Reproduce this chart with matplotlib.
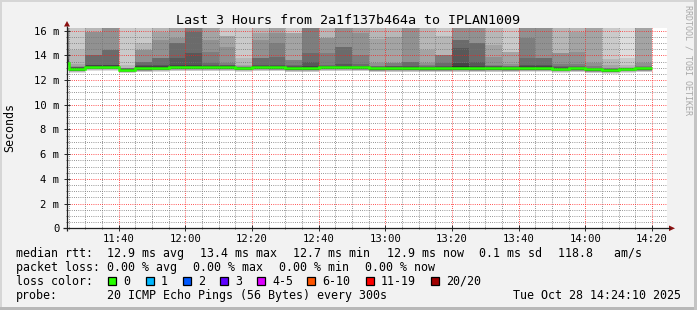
import matplotlib
matplotlib.use("Agg")
import matplotlib.pyplot as plt
from matplotlib.patches import Rectangle, Polygon
import numpy as np

# ---------------- data ----------------
title = "Last 3 Hours from 2a1f137b464a to IPLAN1009"
graph_start = "11:24:30"
graph_end = "14:24:30"
# end time of each 5-min step (first step is partial, starts at graph start)
bar_end = ["11:25", "11:30", "11:35", "11:40", "11:45", "11:50", "11:55", "12:00",
           "12:05", "12:10", "12:15", "12:20", "12:25", "12:30", "12:35", "12:40",
           "12:45", "12:50", "12:55", "13:00", "13:05", "13:10", "13:15", "13:20",
           "13:25", "13:30", "13:35", "13:40", "13:45", "13:50", "13:55", "14:00",
           "14:05", "14:10", "14:15", "14:20"]
# median rtt per step (ms)
medians = [13.4, 12.9, 13.08, 13.08, 12.85, 12.95, 13.0, 13.05, 13.05, 13.05, 13.05,
           13.0, 13.05, 13.03, 12.97, 12.97, 13.05, 13.05, 13.03, 12.95, 12.97, 12.97,
           12.95, 12.95, 12.97, 12.95, 12.97, 12.95, 12.98, 12.98, 12.92, 12.95, 12.87,
           12.82, 12.92, 12.95]
# upper ten pings per step, ping20 .. ping11 (ms)
upper_pings = [
    [17.0, 16.8, 16.6, 16.4, 16.3, 14.5, 13.9, 13.7, 13.6, 13.5],
    [17.0, 16.6, 14.4, 13.3, 13.12, 13.08, 13.05, 13.02, 12.98, 12.95],
    [17.0, 16.8, 16.5, 15.9, 15.9, 14.0, 14.0, 13.25, 13.2, 13.15],
    [17.0, 16.8, 16.6, 16.4, 16.3, 14.4, 14.4, 13.25, 13.2, 13.15],
    [17.0, 16.5, 13.2, 13.0, 12.98, 12.96, 12.94, 12.92, 12.9, 12.88],
    [17.0, 16.6, 14.97, 14.43, 14.43, 13.48, 13.48, 13.2, 13.1, 13.05],
    [17.0, 16.8, 16.5, 15.9, 15.24, 13.75, 13.75, 13.2, 13.12, 13.08],
    [17.0, 16.8, 16.6, 16.4, 15.37, 14.97, 14.97, 13.75, 13.2, 13.12],
    [17.2, 17.0, 16.8, 16.6, 16.5, 16.4, 15.9, 14.16, 13.25, 13.15],
    [17.0, 16.8, 16.6, 16.4, 15.24, 14.29, 13.35, 13.2, 13.15, 13.1],
    [17.0, 16.6, 15.56, 15.56, 14.7, 13.35, 13.25, 13.2, 13.15, 13.1],
    [17.0, 16.6, 13.75, 13.2, 13.1, 13.08, 13.06, 13.04, 13.02, 13.01],
    [17.0, 16.8, 16.5, 15.78, 15.24, 13.75, 13.75, 13.2, 13.15, 13.1],
    [17.0, 16.8, 16.6, 16.4, 15.78, 14.97, 13.89, 13.2, 13.15, 13.1],
    [17.0, 16.6, 15.78, 15.78, 13.62, 13.62, 13.2, 13.1, 13.05, 13.02],
    [17.2, 17.0, 16.8, 16.6, 16.4, 16.3, 14.16, 13.48, 13.1, 13.05],
    [17.0, 16.8, 16.5, 15.37, 15.37, 14.16, 13.2, 13.15, 13.1, 13.08],
    [17.0, 16.8, 16.6, 16.4, 16.3, 14.7, 14.7, 13.3, 13.15, 13.1],
    [17.0, 16.8, 16.6, 16.4, 15.78, 14.02, 13.3, 13.15, 13.1, 13.06],
    [17.0, 16.8, 16.5, 15.3, 13.35, 13.15, 13.1, 13.05, 13.0, 12.98],
    [17.0, 16.8, 16.5, 15.51, 13.35, 13.35, 13.15, 13.1, 13.05, 13.0],
    [17.0, 16.8, 16.6, 16.4, 16.3, 13.48, 13.48, 13.15, 13.08, 13.02],
    [17.0, 16.8, 16.5, 14.43, 13.35, 13.2, 13.12, 13.08, 13.03, 13.0],
    [17.0, 16.6, 15.56, 14.02, 14.02, 14.02, 13.35, 13.15, 13.05, 13.0],
    [17.0, 16.8, 16.6, 16.4, 16.3, 15.24, 15.24, 14.56, 13.35, 13.1],
    [17.0, 16.8, 16.6, 16.4, 16.3, 14.97, 14.97, 13.48, 13.15, 13.05],
    [17.0, 16.8, 16.5, 14.83, 13.89, 13.2, 13.15, 13.1, 13.05, 13.0],
    [17.0, 16.6, 14.29, 14.29, 13.3, 13.15, 13.1, 13.05, 13.0, 12.98],
    [17.0, 16.8, 16.6, 16.4, 16.3, 15.37, 13.75, 13.2, 13.1, 13.05],
    [17.0, 16.8, 16.6, 16.4, 16.3, 13.75, 13.75, 13.2, 13.1, 13.05],
    [17.0, 16.8, 16.5, 14.16, 14.16, 13.3, 13.1, 13.05, 13.0, 12.98],
    [17.0, 16.8, 16.5, 15.91, 14.3, 13.3, 13.1, 13.05, 13.0, 12.97],
    [17.0, 16.8, 16.6, 16.4, 13.35, 13.1, 13.0, 12.96, 12.93, 12.9],
    [17.0, 16.6, 13.72, 13.2, 13.0, 12.95, 12.92, 12.9, 12.88, 12.86],
    [17.0, 13.75, 13.2, 13.05, 13.0, 12.98, 12.97, 12.96, 12.95, 12.94],
    [17.0, 16.8, 16.6, 16.4, 13.35, 13.15, 13.05, 13.0, 12.98, 12.96],
]
# lower ten pings per step, ping1 .. ping10 (ms)
lower_pings = [
    [12.95, 13.05, 13.12, 13.18, 13.22, 13.25, 13.27, 13.29, 13.3, 13.32],
    [12.6, 12.64, 12.67, 12.7, 12.72, 12.74, 12.75, 12.76, 12.77, 12.78],
    [12.75, 12.8, 12.84, 12.87, 12.89, 12.91, 12.92, 12.93, 12.94, 12.95],
    [12.75, 12.8, 12.84, 12.87, 12.89, 12.91, 12.92, 12.93, 12.94, 12.95],
    [12.55, 12.58, 12.62, 12.65, 12.67, 12.69, 12.7, 12.71, 12.72, 12.73],
    [12.62, 12.67, 12.71, 12.74, 12.76, 12.78, 12.79, 12.8, 12.81, 12.82],
    [12.67, 12.72, 12.76, 12.79, 12.81, 12.83, 12.84, 12.85, 12.86, 12.87],
    [12.72, 12.77, 12.81, 12.84, 12.86, 12.88, 12.89, 12.9, 12.91, 12.92],
    [12.72, 12.77, 12.81, 12.84, 12.86, 12.88, 12.89, 12.9, 12.91, 12.92],
    [12.72, 12.77, 12.81, 12.84, 12.86, 12.88, 12.89, 12.9, 12.91, 12.92],
    [12.72, 12.77, 12.81, 12.84, 12.86, 12.88, 12.89, 12.9, 12.91, 12.92],
    [12.67, 12.72, 12.76, 12.79, 12.81, 12.83, 12.84, 12.85, 12.86, 12.87],
    [12.72, 12.77, 12.81, 12.84, 12.86, 12.88, 12.89, 12.9, 12.91, 12.92],
    [12.7, 12.75, 12.79, 12.82, 12.84, 12.86, 12.87, 12.88, 12.89, 12.9],
    [12.64, 12.69, 12.73, 12.76, 12.78, 12.8, 12.81, 12.82, 12.83, 12.84],
    [12.64, 12.69, 12.73, 12.76, 12.78, 12.8, 12.81, 12.82, 12.83, 12.84],
    [12.72, 12.77, 12.81, 12.84, 12.86, 12.88, 12.89, 12.9, 12.91, 12.92],
    [12.72, 12.77, 12.81, 12.84, 12.86, 12.88, 12.89, 12.9, 12.91, 12.92],
    [12.7, 12.75, 12.79, 12.82, 12.84, 12.86, 12.87, 12.88, 12.89, 12.9],
    [12.62, 12.67, 12.71, 12.74, 12.76, 12.78, 12.79, 12.8, 12.81, 12.82],
    [12.64, 12.69, 12.73, 12.76, 12.78, 12.8, 12.81, 12.82, 12.83, 12.84],
    [12.64, 12.69, 12.73, 12.76, 12.78, 12.8, 12.81, 12.82, 12.83, 12.84],
    [12.62, 12.67, 12.71, 12.74, 12.76, 12.78, 12.79, 12.8, 12.81, 12.82],
    [12.62, 12.67, 12.71, 12.74, 12.76, 12.78, 12.79, 12.8, 12.81, 12.82],
    [12.64, 12.69, 12.73, 12.76, 12.78, 12.8, 12.81, 12.82, 12.83, 12.84],
    [12.62, 12.67, 12.71, 12.74, 12.76, 12.78, 12.79, 12.8, 12.81, 12.82],
    [12.64, 12.69, 12.73, 12.76, 12.78, 12.8, 12.81, 12.82, 12.83, 12.84],
    [12.62, 12.67, 12.71, 12.74, 12.76, 12.78, 12.79, 12.8, 12.81, 12.82],
    [12.65, 12.7, 12.74, 12.77, 12.79, 12.81, 12.82, 12.83, 12.84, 12.85],
    [12.65, 12.7, 12.74, 12.77, 12.79, 12.81, 12.82, 12.83, 12.84, 12.85],
    [12.6, 12.65, 12.69, 12.72, 12.74, 12.76, 12.77, 12.78, 12.79, 12.8],
    [12.62, 12.67, 12.71, 12.74, 12.76, 12.78, 12.79, 12.8, 12.81, 12.82],
    [12.55, 12.6, 12.64, 12.67, 12.69, 12.71, 12.72, 12.73, 12.74, 12.75],
    [12.5, 12.55, 12.59, 12.62, 12.64, 12.66, 12.67, 12.68, 12.69, 12.7],
    [12.6, 12.65, 12.69, 12.72, 12.74, 12.76, 12.77, 12.78, 12.79, 12.8],
    [12.62, 12.67, 12.71, 12.74, 12.76, 12.78, 12.79, 12.8, 12.81, 12.82],
]
y_top = 16.19
y_ticks = [0, 2, 4, 6, 8, 10, 12, 14, 16]
y_tick_labels = ["0", "2 m", "4 m", "6 m", "8 m", "10 m", "12 m", "14 m", "16 m"]
x_tick_times = ["11:40", "12:00", "12:20", "12:40", "13:00", "13:20", "13:40", "14:00", "14:20"]
y_label = "Seconds"
side_text = "RRDTOOL / TOBI OETIKER"

rtt_label = "median rtt:"
rtt_items = ["12.9 ms avg", "13.4 ms max", "12.7 ms min", "12.9 ms now", "0.1 ms sd", "118.8   am/s"]
loss_label = "packet loss:"
loss_items = ["0.00 % avg", "0.00 % max", "0.00 % min", "0.00 % now"]
color_label = "loss color:"
loss_names = ["0", "1", "2", "3", "4-5", "6-10", "11-19", "20/20"]
loss_colors = ["#26ff00", "#00b8ff", "#0059ff", "#5e00ff", "#dd00ff", "#ff5500", "#ff0000", "#a00000"]
probe_label = "probe:"
probe_text = "20 ICMP Echo Pings (56 Bytes) every 300s"
stamp_text = "Tue Oct 28 14:24:10 2025"

# ---------------- layout / style ----------------
W, H = 697, 310
BACK = "#f2f2f2"
MONO = "DejaVu Sans Mono"
plt.rcParams["font.family"] = [MONO]


def tmin(s):
    parts = [int(p) for p in s.split(":")]
    sec = parts[2] if len(parts) > 2 else 0
    return (parts[0] - 11) * 60 + parts[1] + sec / 60.0


fig = plt.figure(figsize=(W / 100, H / 100), dpi=100, facecolor=BACK)
L, R, T, B = 67, 667, 28.3, 228.3
ax = fig.add_axes([L / W, 1 - B / H, (R - L) / W, (B - T) / H])
ax.set_facecolor("white")
x0, x1 = tmin(graph_start), tmin(graph_end)
ax.set_xlim(x0, x1)
ax.set_ylim(0, y_top)

ends = [tmin(t) for t in bar_end]
starts = [x0] + ends[:-1]

for k in range(len(ends)):
    p = list(lower_pings[k]) + list(upper_pings[k])[::-1]
    for i in range(1, 11):
        lo, hi = p[i - 1], p[20 - i]
        g = int(190 / 10 * (10 - i)) + 50
        col = "#%02x%02x%02x" % (g, g, g)
        ax.bar(starts[k], hi - lo, bottom=lo, width=ends[k] - starts[k], align="edge",
               color=col, linewidth=0, antialiased=False, zorder=1)

ax.stairs(medians, starts + [ends[-1]], baseline=None, color=loss_colors[0],
          linewidth=1.8, zorder=3)

ax.set_yticks(y_ticks)
ax.set_yticklabels(y_tick_labels)
ax.set_yticks(np.arange(0.5, 16.1, 0.5), minor=True)
ax.set_xticks([tmin(t) for t in x_tick_times])
ax.set_xticklabels(x_tick_times)
ax.set_xticks(np.arange(25, 205, 5), minor=True)

ax.set_axisbelow(False)
ax.grid(which="major", color=(1, 0.1, 0.1, 0.28), linestyle=(0, (1, 1.6)), linewidth=0.6)
ax.grid(which="minor", color=(0.45, 0.45, 0.45, 0.22), linestyle=(0, (1, 1.6)), linewidth=0.6)
for s in ax.spines.values():
    s.set_visible(False)
ax.tick_params(which="major", direction="inout", length=4, width=0.72, color="#303030",
               labelsize=7.6, labelcolor="black")
ax.tick_params(which="minor", direction="inout", length=2, width=0.6, color="#505050")
ax.tick_params(axis="y", which="major", pad=3.5)
ax.tick_params(axis="x", which="major", pad=1.8)

# overlay in pixel coordinates
ov = fig.add_axes([0, 0, 1, 1], zorder=10)
ov.set_xlim(0, W)
ov.set_ylim(H, 0)
ov.axis("off")
ov.patch.set_alpha(0)

# frame shading
ov.add_patch(Rectangle((0, 0), W, 2, color="#d6d6d6", lw=0))
ov.add_patch(Rectangle((0, 0), 2, H, color="#d6d6d6", lw=0))
ov.add_patch(Rectangle((0, H - 3), W, 3, color="#b8b8b8", lw=0))
ov.add_patch(Rectangle((W - 3, 0), 3, H, color="#c4c4c4", lw=0))

# axes lines + arrows
ov.plot([63, 670], [B, B], color="#202020", lw=0.9, solid_capstyle="butt")
ov.plot([L, L], [231, 26], color="#202020", lw=0.9, solid_capstyle="butt")
ov.add_patch(Polygon([[669, B - 2.8], [675, B], [669, B + 2.8]], closed=True, color="#8b1010", lw=0))
ov.add_patch(Polygon([[L - 3, 26.5], [L, 21], [L + 3, 26.5]], closed=True, color="#8b1010", lw=0))

# texts
ov.text(348.5, 23.5, title, fontsize=9.6, ha="center", va="baseline", color="black")
ov.text(10, 128, y_label, fontsize=8.4, rotation=90, ha="center", va="center")
ov.text(688, 5, side_text, fontsize=6.0, rotation=270, ha="center", va="top", color="#a8a8a8")

FS = 8.4
rows_y = [256.7, 270.7, 284.7, 298.7]
ov.text(16, rows_y[0], rtt_label, fontsize=FS, va="baseline")
for xx, s in zip([107, 200, 293, 386.7, 479, 558], rtt_items):
    ov.text(xx, rows_y[0], s, fontsize=FS, va="baseline")
ov.text(16, rows_y[1], loss_label, fontsize=FS, va="baseline")
for xx, s in zip([107, 193, 279, 365], loss_items):
    ov.text(xx, rows_y[1], s, fontsize=FS, va="baseline")
ov.text(16, rows_y[2], color_label, fontsize=FS, va="baseline")
box_x = [108, 146, 183, 220, 257, 307, 366, 431]
for bx, name, col in zip(box_x, loss_names, loss_colors):
    ov.add_patch(Rectangle((bx, 277.3), 8, 8, facecolor=col, edgecolor="black", lw=0.9))
    ov.text(bx + 15, rows_y[2], name, fontsize=FS, va="baseline")
ov.text(16, rows_y[3], probe_label, fontsize=FS, va="baseline")
ov.text(107, rows_y[3], probe_text, fontsize=FS, va="baseline")
ov.text(681, rows_y[3], stamp_text, fontsize=FS, va="baseline", ha="right")

fig.savefig("out.png", dpi=100, facecolor=BACK)
